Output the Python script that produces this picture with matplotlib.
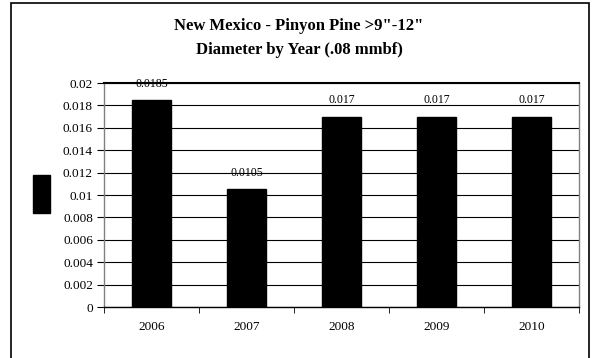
import matplotlib
matplotlib.use("Agg")
import matplotlib.pyplot as plt
from matplotlib.patches import Rectangle

years = ["2006", "2007", "2008", "2009", "2010"]
values = [0.0185, 0.0105, 0.017, 0.017, 0.017]
labels = ["0.0185", "0.0105", "0.017", "0.017", "0.017"]
yticks = [0, 0.002, 0.004, 0.006, 0.008, 0.01, 0.012, 0.014, 0.016, 0.018, 0.02]
ytick_labels = ["0", "0.002", "0.004", "0.006", "0.008", "0.01", "0.012", "0.014", "0.016", "0.018", "0.02"]
title = "New Mexico - Pinyon Pine >9\"-12\"\nDiameter by Year (.08 mmbf)"

plt.rcParams['font.family'] = ['Liberation Serif', 'DejaVu Serif']

W, H = 598, 358
fig = plt.figure(figsize=(W/100, H/100), dpi=100)
fig.patch.set_facecolor("white")

# outer frame (bottom edge lies below the image)
fig.patches.append(Rectangle((11/W, -10/H), (589-11)/W, (H+7)/H, transform=fig.transFigure,
                             fill=False, edgecolor="black", linewidth=1.2))

left, right, top, bottom = 104, 579, 83, 307
ax = fig.add_axes([left/W, 1-bottom/H, (right-left)/W, (bottom-top)/H])

x = range(len(years))
ax.bar(x, values, width=0.42, color="black", edgecolor="black", zorder=3)
for xi, v, lab in zip(x, values, labels):
    ax.text(xi, v + 0.00145, lab, ha="center", va="center", fontsize=8.5, zorder=4)

ax.set_xlim(-0.5, len(years) - 0.5)
ax.set_ylim(0, 0.02)
ax.set_yticks(yticks)
ax.set_yticklabels(ytick_labels, fontsize=9.5)
ax.set_xticks(list(x))
ax.set_xticklabels(years, fontsize=9.5)
ax.set_xticks([i - 0.5 for i in range(len(years) + 1)], minor=True)
ax.tick_params(axis="x", which="major", length=0, pad=10)
ax.tick_params(axis="x", which="minor", length=4, color="black", direction="out")
ax.tick_params(axis="y", length=5, direction="out", color="black", pad=3)
ax.yaxis.grid(True, color="black", linewidth=0.8, zorder=0)
ax.set_axisbelow(True)
for s in ["left", "right"]:
    ax.spines[s].set_color("#808080")
    ax.spines[s].set_linewidth(1.0)
ax.spines["top"].set_color("black")
ax.spines["top"].set_linewidth(1.5)
ax.spines["bottom"].set_color("black")
ax.spines["bottom"].set_linewidth(1.0)

fig.text(0.5, 1-38/H, title, ha="center", va="center", fontsize=12, fontweight="bold",
         linespacing=1.6)

# legend key
fig.patches.append(Rectangle((33/W, 1-213/H), 17/W, 38/H, transform=fig.transFigure,
                             facecolor="black", edgecolor="black"))

fig.savefig("out.png", dpi=100)
